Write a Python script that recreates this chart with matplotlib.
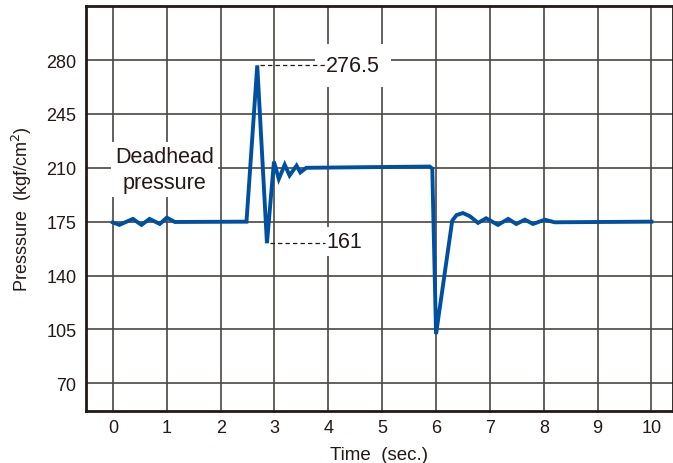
import matplotlib.pyplot as plt

plt.rcParams['font.family'] = ['Liberation Sans', 'DejaVu Sans']

# pressure trace (time in s, pressure in kgf/cm2)
time_s = [0.0, 0.12, 0.37, 0.53, 0.68, 0.87, 1.00, 1.15, 2.48,
          2.68, 2.86, 2.99, 3.08, 3.19, 3.28, 3.41, 3.48, 3.59,
          5.88, 5.93, 6.00, 6.30, 6.38, 6.50, 6.63, 6.78, 6.93,
          7.15, 7.34, 7.49, 7.65, 7.80, 8.02, 8.20, 10.0]
pressure = [174.5, 172.9, 176.8, 172.9, 176.8, 173.5, 177.6, 174.8, 175.0,
            276.5, 161.0, 214.0, 202.7, 212.0, 205.0, 211.4, 207.0, 210.0,
            210.8, 209.5, 102.0, 175.6, 179.3, 180.6, 178.5, 174.2, 177.2,
            172.9, 176.8, 173.5, 176.3, 173.5, 176.3, 174.6, 175.0]

x_ticks = list(range(0, 11))
y_ticks = [70, 105, 140, 175, 210, 245, 280]

peak_t, peak_p = 2.68, 276.5
dip_t, dip_p = 2.86, 161.0

blue = '#0050a2'
ink = '#231815'

fig = plt.figure(figsize=(6.73, 4.64), dpi=100)
ax = fig.add_axes([86 / 673, 52.3 / 464, 1 - 86 / 673, (411.7 - 7) / 464])

ax.set_xlim(-0.5, 10.4)
ax.set_ylim(52.2, 315.1)
ax.set_xticks(x_ticks)
ax.set_yticks(y_ticks)
ax.tick_params(length=0, labelsize=13, colors=ink)
ax.tick_params(axis='y', pad=7)
ax.tick_params(axis='x', pad=6)
ax.grid(True, color='#4d4541', linewidth=1.2)
ax.set_axisbelow(True)
for side in ax.spines.values():
    side.set_linewidth(2.0)
    side.set_color(ink)

ax.plot(time_s, pressure, color=blue, linewidth=2.8, solid_joinstyle='miter', zorder=5)

# value callouts with dashed leaders
ax.text(3.96, peak_p, '276.5', fontsize=15.5, color=ink, ha='left', va='center',
        bbox=dict(facecolor='white', edgecolor='none', pad=8), zorder=3)
ax.plot([peak_t + 0.05, 3.94], [peak_p, peak_p], color=ink, linewidth=0.9,
        dashes=(3.5, 2.5), zorder=4)
ax.text(3.96, dip_p + 1, '161', fontsize=15.5, color=ink, ha='left', va='center',
        bbox=dict(facecolor='white', edgecolor='none', pad=3), zorder=3)
ax.plot([dip_t + 0.05, 3.94], [dip_p, dip_p], color=ink, linewidth=0.9,
        dashes=(3.5, 2.5), zorder=4)

ax.text(0.96, 209, 'Deadhead\npressure', fontsize=15.5, color=ink, ha='center',
        va='center', linespacing=1.3,
        bbox=dict(facecolor='white', edgecolor='none', pad=3), zorder=3)

ax.set_xlabel('Time  (sec.)', fontsize=13.5, color=ink, labelpad=7)
ax.set_ylabel('Presssure  (kgf/cm$^2$)', fontsize=13, color=ink, labelpad=9)

fig.savefig('out.png', dpi=100)
